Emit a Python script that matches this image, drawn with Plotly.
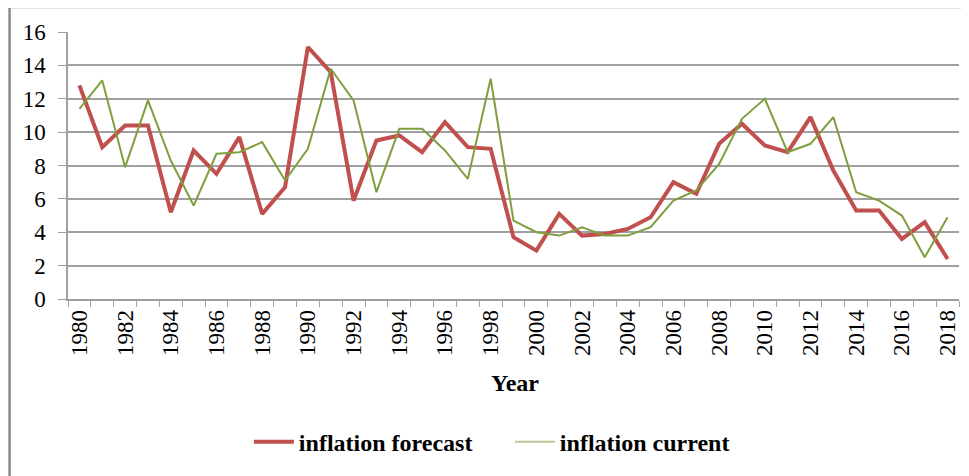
import plotly.graph_objects as go

years = list(range(1980, 2019))
inflation_forecast = [12.8, 9.1, 10.4, 10.4, 5.2, 8.9, 7.5, 9.7, 5.1, 6.7,
                      15.1, 13.6, 5.9, 9.5, 9.8, 8.8, 10.6, 9.1, 9.0, 3.7,
                      2.9, 5.1, 3.8, 3.9, 4.2, 4.9, 7.0, 6.3, 9.3, 10.5,
                      9.2, 8.8, 10.9, 7.7, 5.3, 5.3, 3.6, 4.6, 2.4]
inflation_current = [11.4, 13.1, 7.9, 11.9, 8.3, 5.6, 8.7, 8.8, 9.4, 7.1,
                     9.0, 13.8, 11.9, 6.4, 10.2, 10.2, 8.9, 7.2, 13.2, 4.7,
                     4.0, 3.8, 4.3, 3.8, 3.8, 4.3, 5.9, 6.5, 8.1, 10.8,
                     12.0, 8.8, 9.3, 10.9, 6.4, 5.9, 5.0, 2.5, 4.9]
tick_years = list(range(1980, 2019, 2))
y_ticks = list(range(0, 17, 2))
series_names = ["inflation forecast", "inflation current"]

FONT = "Liberation Serif, Times New Roman, serif"
GRID = "#a0a0a0"
RED = "#C0504D"
GREEN = "#7F9F3F"
GREEN_LEGEND = "#BFC79A"

fig = go.Figure()
fig.add_trace(go.Scatter(x=years, y=inflation_forecast, mode="lines",
                         name=series_names[0], showlegend=True,
                         line=dict(color=RED, width=4)))
fig.add_trace(go.Scatter(x=years, y=inflation_current, mode="lines",
                         name=series_names[1], showlegend=False,
                         line=dict(color=GREEN, width=2)))
# legend sample for the thin current-inflation line (rendered paler in the reference)
fig.add_trace(go.Scatter(x=[None], y=[None], mode="lines",
                         name=series_names[1], showlegend=True,
                         line=dict(color=GREEN_LEGEND, width=2)))

fig.update_layout(
    width=961, height=468,
    margin=dict(l=60, r=10, t=24, b=177, autoexpand=False),
    paper_bgcolor="white", plot_bgcolor="white",
    font=dict(family=FONT, color="black"),
    showlegend=True,
    legend=dict(orientation="h", x=0.203, xanchor="left", y=-0.536, yanchor="middle",
                font=dict(family=FONT, size=24, color="black", weight="bold"),
                entrywidth=206, entrywidthmode="pixels",
                itemwidth=40, tracegroupgap=0, bgcolor="rgba(0,0,0,0)"),
    xaxis=dict(range=[1979.5, 2018.5], tickmode="array", tickvals=tick_years,
               ticktext=[str(y) for y in tick_years], tickangle=-90,
               ticks="", tickfont=dict(family=FONT, size=23, color="black"),
               showgrid=False, zeroline=False, automargin=False,
               showline=True, linecolor=GRID, linewidth=1.5,
               minor=dict(tickmode="linear", tick0=1979.5, dtick=1, ticks="outside",
                          ticklen=6, tickcolor=GRID, tickwidth=1, showgrid=False)),
    yaxis=dict(range=[0, 16], tickmode="array", tickvals=y_ticks,
               ticks="outside", ticklen=8, tickcolor=GRID, tickwidth=1,
               ticklabelstandoff=8, automargin=False,
               tickfont=dict(family=FONT, size=23, color="black"),
               showgrid=True, gridcolor=GRID, gridwidth=1.5, zeroline=False,
               showline=True, linecolor=GRID, linewidth=1.5),
    annotations=[dict(text="<b>Year</b>", x=0.502, y=-0.315, xref="paper", yref="paper",
                      showarrow=False, font=dict(family=FONT, size=24, color="black"),
                      xanchor="center", yanchor="middle")],
    shapes=[dict(type="rect", xref="paper", yref="paper",
                 x0=-0.0656, x1=1.05, y0=-0.8, y1=1.0936,
                 line=dict(color="#8c8c8c", width=2.5), fillcolor="rgba(0,0,0,0)",
                 layer="below")],
)

fig.write_html("out.html")
